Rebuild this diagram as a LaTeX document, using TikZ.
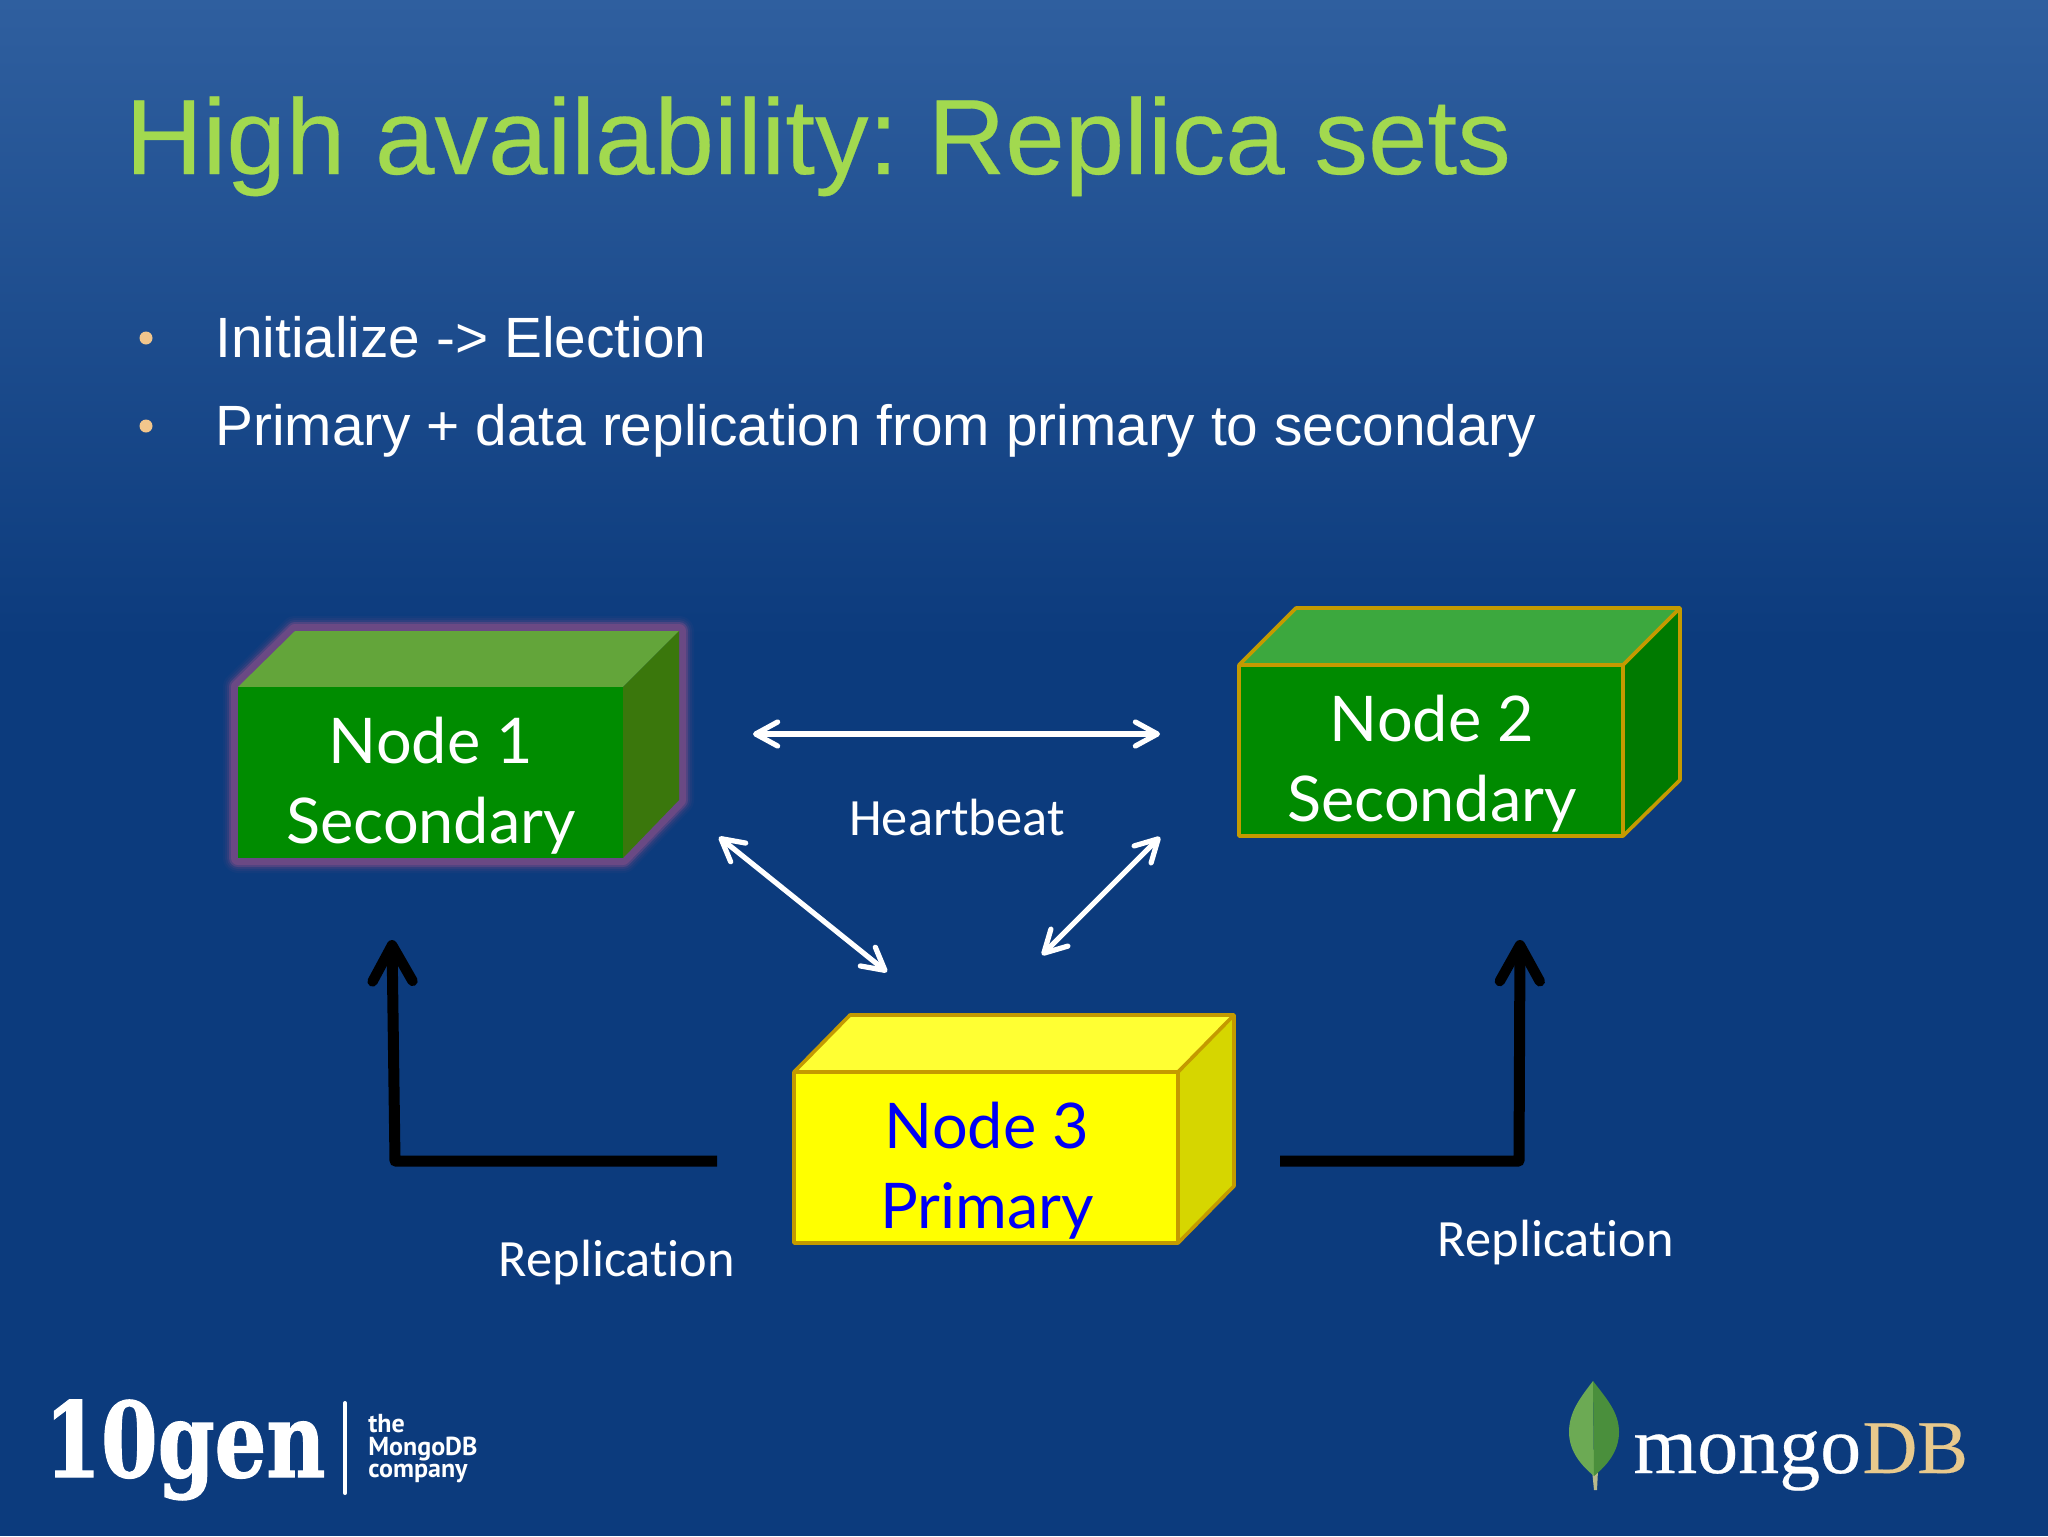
\documentclass[tikz,border=0pt]{standalone}
\usepackage{fontspec}
\usepackage{graphicx}
\usetikzlibrary{arrows.meta}
\setmainfont{Liberation Sans}
\newfontfamily\titlefont[FakeBold=0.25]{Liberation Sans}
\newfontfamily\labelfont[Ligatures=NoCommon]{Carlito}
\newfontfamily\boxfont{Lato}
\newfontfamily\genfont[BoldFeatures={FakeBold=1.2}]{DejaVu Serif Condensed}
\newfontfamily\smallfont{PT Sans}
\newfontfamily\mongofont[FakeBold=0.3]{Liberation Serif}
\definecolor{bgtop}{HTML}{2F5F9F}
\definecolor{bgbot}{HTML}{0C3B7D}
\definecolor{titlegreen}{HTML}{A2D94F}
\definecolor{bulletc}{HTML}{F2C68C}
\definecolor{goldedge}{HTML}{C49A00}
\definecolor{glow}{HTML}{6E4A85}
\frenchspacing
\tikzset{
  x=0.5pt,y=-0.5pt,
  hb/.style={white,line width=2.6pt,{Straight Barb[length=11pt,width=12pt,round]}-{Straight Barb[length=11pt,width=12pt,round]}},
  repl/.style={black,line width=5.5pt,line join=round,-{Straight Barb[length=18pt,width=20pt,round,line width=5.2pt]}},
  lab/.style={font=\labelfont\fontsize{26.2}{30}\selectfont,text=white,inner sep=0pt},
  boxtext/.style={font=\boxfont\fontsize{31.5}{40}\selectfont,align=center,inner sep=0pt},
  bullettext/.style={font=\fontsize{28.4}{34}\selectfont,text=white,inner sep=0pt,anchor=base west},
  bulletdot/.style={circle,fill=bulletc,minimum size=6.5pt,inner sep=0pt},
  smalltext/.style={font=\smallfont\bfseries\fontsize{13}{15}\selectfont,text=white,anchor=base west,inner sep=0pt},
  edge3d/.style={goldedge,line width=1.8pt,line join=round},
}
\begin{document}
\begin{tikzpicture}
\useasboundingbox (0,0) rectangle (2048,1536);
\fill[bgbot] (0,0) rectangle (2048,1536);
\shade[top color=bgtop,bottom color=bgbot] (0,0) rectangle (2048,640);

\node[font=\titlefont\fontsize{53.5}{60}\selectfont,text=titlegreen,anchor=base west,inner sep=0pt] (title) at (125,174) {High availability: Replica sets};

\node[bulletdot] (b1) at (146,338) {};
\node[bullettext] (t1) at (215,357) {Initialize -> Election};
\node[bulletdot] (b2) at (146,426) {};
\node[bullettext] (t2) at (215,445) {Primary + data replication from primary to secondary};

% Node 1
\foreach \w/\o in {30/0.08,26/0.12,22/0.2,18/0.5,14/0.9}{
  \draw[glow,line width=\w*0.5pt,opacity=\o,line join=round]
    (238,687) -- (295,631) -- (679,631) -- (679,800) -- (623,858) -- (238,858) -- cycle;
}
\fill[color={rgb,255:red,99;green,165;blue,58}] (238,687) -- (295,631) -- (679,631) -- (623,687) -- cycle;
\fill[color={rgb,255:red,58;green,119;blue,12}] (623,687) -- (679,631) -- (679,800) -- (623,858) -- cycle;
\fill[color={rgb,255:red,0;green,140;blue,0}] (238,687) rectangle (623,858);
\node[boxtext,text=white] (n1) at (431,786) {Node 1\\Secondary};

% Node 2
\fill[color={rgb,255:red,60;green,168;blue,62}] (1239,665) -- (1296,608) -- (1680,608) -- (1623,665) -- cycle;
\fill[color={rgb,255:red,0;green,122;blue,0}] (1623,665) -- (1680,608) -- (1680,780) -- (1623,836) -- cycle;
\fill[color={rgb,255:red,0;green,138;blue,0}] (1239,665) rectangle (1623,836);
\node[boxtext,text=white] (n2) at (1432,764) {Node 2\\Secondary};
\draw[edge3d] (1239,665) -- (1296,608) -- (1680,608) -- (1680,780) -- (1623,836) -- (1239,836) -- cycle
  (1239,665) -- (1623,665) -- (1680,608) (1623,665) -- (1623,836);

% Node 3
\fill[color={rgb,255:red,255;green,255;blue,51}] (794,1072) -- (850,1015) -- (1234,1015) -- (1178,1072) -- cycle;
\fill[color={rgb,255:red,214;green,214;blue,0}] (1178,1072) -- (1234,1015) -- (1234,1186) -- (1178,1243) -- cycle;
\fill[color={rgb,255:red,255;green,255;blue,0}] (794,1072) rectangle (1178,1243);
\node[boxtext,text={rgb,255:red,0;green,0;blue,245}] (n3) at (987,1171) {Node 3\\Primary};
\draw[edge3d] (794,1072) -- (850,1015) -- (1234,1015) -- (1234,1186) -- (1178,1243) -- (794,1243) -- cycle
  (794,1072) -- (1178,1072) -- (1234,1015) (1178,1072) -- (1178,1243);

% Heartbeat arrows
\coordinate (h1a) at (753,734); \coordinate (h1b) at (1160,734);
\coordinate (h2a) at (719,837); \coordinate (h2b) at (887,972);
\coordinate (h3a) at (1160,837); \coordinate (h3b) at (1042,955);
\draw[hb] (h1a) -- (h1b);
\draw[hb] (h2a) -- (h2b);
\draw[hb] (h3a) -- (h3b);
\node[lab] (hl) at (957,817) {Heartbeat};

% Replication arrows
\coordinate (r1a) at (717,1161); \coordinate (r1b) at (395,1161); \coordinate (r1c) at (392,940);
\coordinate (r2a) at (1280,1161); \coordinate (r2b) at (1519,1161); \coordinate (r2c) at (1520,940);
\draw[repl] (r1a) -- (r1b) -- (r1c);
\draw[repl] (r2a) -- (r2b) -- (r2c);
\node[lab] (rl1) at (617,1263) {Replication};
\node[lab] (rl2) at (1556,1243) {Replication};

% 10gen logo
\node[font=\genfont\bfseries\fontsize{52}{60}\selectfont,text=white,anchor=base west,inner sep=0pt] (gen) at (44,1477) {\scalebox{0.87}[1]{10gen}};
\coordinate (bara) at (345,1403); \coordinate (barb) at (345,1493);
\draw[white,line width=2pt,line cap=round] (bara) -- (barb);
\node[smalltext] (the) at (368,1432) {the};
\node[smalltext] (mdb) at (368,1455) {MongoDB};
\node[smalltext] (comp) at (368,1477) {company};

% mongoDB logo
\fill[color={rgb,255:red,185;green,185;blue,140}] (1592,1470) -- (1598,1470) -- (1597,1490) -- (1594,1490) -- cycle;
\fill[color={rgb,255:red,108;green,170;blue,84}] (1593,1381) .. controls (1580,1398) and (1569,1412) .. (1569,1432) .. controls (1569,1452) and (1582,1466) .. (1594,1476) -- cycle;
\fill[color={rgb,255:red,74;green,143;blue,60}] (1593,1381) .. controls (1606,1398) and (1619,1412) .. (1619,1432) .. controls (1619,1452) and (1606,1466) .. (1594,1476) -- cycle;
\node[font=\mongofont\fontsize{41}{44}\selectfont,text=white,anchor=base west,inner sep=0pt] (mongo) at (1633,1473) {mongo};
\node[font=\mongofont\fontsize{38}{44}\selectfont,text={rgb,255:red,232;green,201;blue,140},anchor=base west,inner sep=0pt] (db) at (1862,1473) {DB};
\end{tikzpicture}
\end{document}
